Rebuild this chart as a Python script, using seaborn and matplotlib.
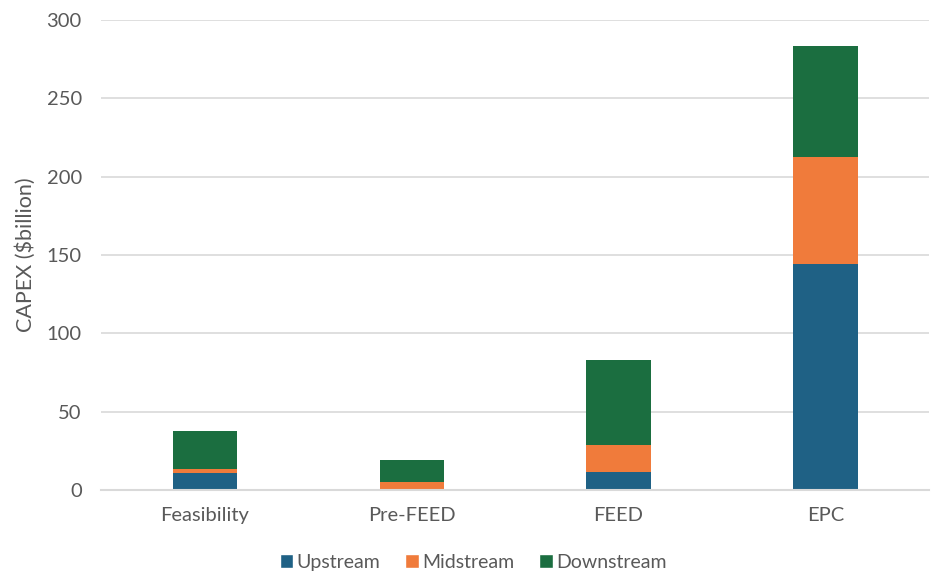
import pandas as pd
import numpy as np
import matplotlib.pyplot as plt
import seaborn as sns
from matplotlib.patches import Patch

# values ($billion)
stages = ["Feasibility", "Pre-FEED", "FEED", "EPC"]
upstream = [10.5, 0.0, 11.7, 144.2]
midstream = [3.0, 5.0, 17.1, 68.2]
downstream = [24.0, 14.4, 54.1, 71.2]

series = ["Upstream", "Midstream", "Downstream"]
colors = {"Upstream": "#1F6185", "Midstream": "#F07B3B", "Downstream": "#1B6E40"}

df = pd.DataFrame({"Stage": stages, "Upstream": upstream,
                   "Midstream": midstream, "Downstream": downstream})
# cumulative tops for stacking
df["Midstream_top"] = df["Upstream"] + df["Midstream"]
df["Downstream_top"] = df["Midstream_top"] + df["Downstream"]

sns.set_theme(style="white")
plt.rcParams["font.family"] = ["Lato", "DejaVu Sans"]

fig = plt.figure(figsize=(9.46, 5.86), dpi=100)
ax = fig.add_axes([0.107, 0.164, 0.875, 0.802])

# draw from the tallest layer down so each segment shows
for col, name in [("Downstream_top", "Downstream"), ("Midstream_top", "Midstream"),
                  ("Upstream", "Upstream")]:
    sns.barplot(data=df, x="Stage", y=col, color=colors[name], width=0.31,
                saturation=1, linewidth=0, ax=ax, zorder=3)

ax.set_ylim(0, 300)
ax.set_yticks(np.arange(0, 301, 50))
ax.yaxis.grid(True, color="#D9D9D9", linewidth=1.2, zorder=0)
ax.set_axisbelow(True)
for s in ["top", "right", "left"]:
    ax.spines[s].set_visible(False)
ax.spines["bottom"].set_color("#D9D9D9")
ax.spines["bottom"].set_linewidth(1.5)
ax.spines["bottom"].set_zorder(4)

ax.set_xlabel("")
ax.set_ylabel("CAPEX ($billion)", fontsize=15.5, color="#595959", labelpad=8)
ax.tick_params(axis="both", labelsize=14.5, colors="#595959", length=0)
ax.tick_params(axis="x", pad=12)
ax.tick_params(axis="y", pad=14)

handles = [Patch(facecolor=colors[s], label=s) for s in series]
fig.legend(handles=handles, loc="center", bbox_to_anchor=(0.5, 0.04), ncol=3,
           frameon=False, fontsize=14, handlelength=0.7, handleheight=0.7,
           handletextpad=0.15, columnspacing=1.3, labelcolor="#595959")

fig.savefig("out.png", dpi=100)
